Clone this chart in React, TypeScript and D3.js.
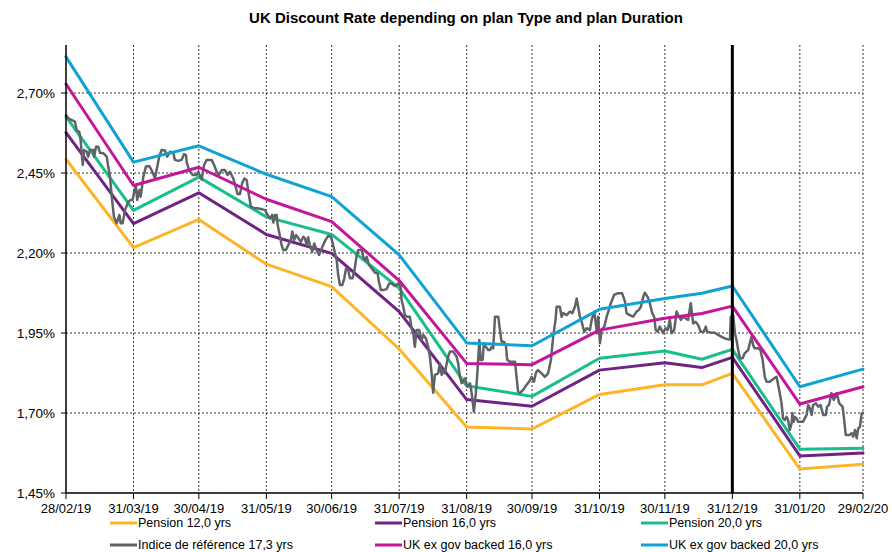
import React from "react";
import * as d3 from "d3";

// month-end knots of the curve series (plus one mid-December point)
const knotDates = [
  "2019-02-28", "2019-03-31", "2019-04-30", "2019-05-31", "2019-06-30",
  "2019-07-31", "2019-08-31", "2019-09-30", "2019-10-31", "2019-11-30",
  "2019-12-17", "2019-12-31", "2020-01-31", "2020-02-29",
];

const pension12 = [2.493, 2.217, 2.305, 2.165, 2.095, 1.900, 1.656, 1.650, 1.758, 1.788, 1.788, 1.824, 1.525, 1.540];
const pension16 = [2.576, 2.292, 2.388, 2.258, 2.199, 2.017, 1.742, 1.721, 1.834, 1.857, 1.842, 1.874, 1.566, 1.575];
const pension20 = [2.626, 2.333, 2.437, 2.313, 2.258, 2.090, 1.785, 1.752, 1.871, 1.894, 1.868, 1.899, 1.587, 1.590];
const ukEx16 = [2.728, 2.411, 2.468, 2.368, 2.298, 2.114, 1.855, 1.851, 1.959, 1.996, 2.011, 2.034, 1.728, 1.782];
const ukEx20 = [2.813, 2.484, 2.535, 2.446, 2.376, 2.194, 1.919, 1.910, 2.024, 2.058, 2.074, 2.097, 1.782, 1.837];

// reference index 17.3 yrs: days after 28/02/19 and rate (%)
const refDays = [
  0, 1.1, 3.4, 4.1, 4.9, 6.1, 6.7, 7.7, 8.3, 9.5, 10.2, 11, 12.5, 12.9, 13.8, 14.8, 15.6, 17.1, 18.7, 19.4,
  20.2, 21, 22, 23.3, 24.5, 25.1, 26, 27.1, 28.6, 29.7, 30.6, 31.2, 32.1, 32.7, 33.7, 34.3, 35.5, 36.7, 38.2, 39.3,
  40.9, 41.6, 42.8, 43.9, 45.5, 46.5, 47.8, 49.3, 50, 51.6, 53.1, 54.2, 55.1, 55.4, 56.6, 58.2, 60, 60.7, 62.3, 63.4,
  64.6, 66.9, 68, 69.2, 70.2, 71.5, 73, 74.2, 75.3, 76.8, 77.9, 78.8, 79.9, 80.9, 81.9, 83, 83.7, 84.9, 86.5, 88,
  89.9, 91.4, 92.6, 93.7, 94.7, 95.2, 96, 96.7, 97.2, 98.3, 99, 99.8, 100.9, 102.1, 103.3, 103.9, 104.8, 105.7, 106.7, 107.9,
  109, 109.7, 110.5, 111.2, 112, 113.1, 114, 115.1, 116.2, 117.1, 118.1, 119.2, 120.4, 121.7, 122.3, 123.2, 124.3, 125, 125.8, 126.9,
  127.8, 128.6, 129.6, 130.4, 131.5, 132.4, 133.5, 134.2, 135.8, 136.5, 137.3, 138.1, 139.1, 140.4, 141.9, 143.1, 143.7, 144.6, 145.7, 147.2,
  148.4, 149.5, 151.1, 152.6, 153.7, 154.1, 154.9, 155.6, 156.7, 157.9, 158.7, 159.5, 160.2, 161, 162.2, 163.3, 164.1, 165.3, 166.3, 167.1,
  167.9, 168.6, 169.4, 170.9, 171.7, 172.5, 173.2, 174, 174.8, 175.5, 176.3, 177.8, 179.4, 180.1, 180.9, 181.7, 182.4, 183.2, 184.3, 185.5,
  186.3, 187.3, 188.2, 188.8, 189.8, 190.4, 191.3, 191.9, 192.8, 193.9, 194.7, 195.5, 196.2, 197, 198.5, 199.3, 200, 201.1, 202, 202.6,
  203.9, 206.2, 206.9, 207.6, 208.4, 209.9, 211.5, 212.7, 213.8, 214.9, 215.8, 216.8, 218.4, 219.9, 221.4, 222.7, 223.7, 224.8, 225.3, 226.8,
  227.6, 228.3, 229.9, 231.4, 232.5, 233.7, 234.5, 235.2, 236, 236.8, 238, 239.1, 240.6, 241.4, 242.6, 243.2, 243.8, 244.4, 245.2, 246,
  247.2, 248.3, 249.3, 250.2, 251.7, 253.3, 255.4, 256.7, 257.4, 258.9, 260.5, 262, 263.1, 264, 265.1, 265.8, 267.1, 268.1, 269.2, 270.1,
  270.8, 271.7, 272.7, 273.5, 274.2, 275.3, 276.3, 277.3, 278.1, 279.3, 280.4, 281.1, 282.4, 283.4, 284.5, 285.7, 286.9, 288, 289.1, 290.3,
  291.5, 292.9, 293.8, 294.4, 296.5, 298, 299.5, 301.1, 302.6, 304.1, 304.9, 305.3, 306.4, 307.2, 307.9, 308.7, 309.5, 310.7, 311.7, 313.3,
  314, 314.8, 315.5, 316.3, 317.9, 318.9, 319.9, 320.9, 321.7, 323.2, 325.1, 326.3, 327.5, 328.6, 329.3, 330.1, 330.9, 331.6, 332.4, 333.2,
  333.6, 334.2, 334.7, 335.5, 336.2, 338.5, 340.1, 340.8, 341.6, 342.4, 343.1, 344.4, 345.4, 346.5, 347.7, 348.9, 349.5, 350.4, 351.5, 352.6,
  353.9, 355.1, 356.6, 357.2, 358.1, 359.7, 360.8, 361.5, 362.3, 363.1, 363.8, 364.6, 365.4, 366,
];
const refRates = [
  2.631, 2.621, 2.613, 2.61, 2.584, 2.579, 2.553, 2.475, 2.522, 2.517, 2.501, 2.522, 2.522, 2.501, 2.532, 2.532, 2.513, 2.512, 2.501, 2.47,
  2.438, 2.376, 2.313, 2.293, 2.319, 2.293, 2.293, 2.334, 2.36, 2.366, 2.366, 2.387, 2.413, 2.366, 2.397, 2.376, 2.438, 2.47, 2.472, 2.459,
  2.433, 2.459, 2.501, 2.522, 2.52, 2.501, 2.517, 2.512, 2.491, 2.488, 2.491, 2.509, 2.506, 2.485, 2.457, 2.444, 2.444, 2.454, 2.43, 2.475,
  2.491, 2.491, 2.475, 2.454, 2.444, 2.459, 2.459, 2.444, 2.454, 2.433, 2.407, 2.384, 2.384, 2.418, 2.433, 2.428, 2.392, 2.345, 2.34, 2.34,
  2.337, 2.334, 2.319, 2.308, 2.319, 2.295, 2.319, 2.319, 2.288, 2.251, 2.225, 2.209, 2.209, 2.225, 2.241, 2.267, 2.241, 2.256, 2.246, 2.235,
  2.251, 2.246, 2.225, 2.249, 2.225, 2.204, 2.23, 2.209, 2.194, 2.209, 2.225, 2.241, 2.253, 2.251, 2.235, 2.209, 2.178, 2.131, 2.1, 2.1,
  2.121, 2.152, 2.147, 2.121, 2.121, 2.142, 2.194, 2.209, 2.209, 2.188, 2.178, 2.188, 2.163, 2.152, 2.138, 2.137, 2.11, 2.084, 2.084, 2.087,
  2.105, 2.105, 2.097, 2.105, 2.095, 2.053, 2.032, 2.006, 2.001, 2.001, 1.965, 1.949, 1.907, 1.959, 1.959, 1.928, 1.944, 1.933, 1.907, 1.876,
  1.824, 1.763, 1.819, 1.824, 1.855, 1.819, 1.834, 1.824, 1.855, 1.876, 1.892, 1.892, 1.876, 1.855, 1.813, 1.793, 1.798, 1.808, 1.782, 1.793,
  1.762, 1.704, 1.762, 1.813, 1.928, 1.866, 1.866, 1.918, 1.907, 1.897, 1.897, 1.907, 1.902, 2.001, 2.001, 1.959, 1.923, 1.923, 1.913, 1.866,
  1.86, 1.86, 1.813, 1.767, 1.762, 1.772, 1.788, 1.798, 1.813, 1.798, 1.826, 1.834, 1.824, 1.813, 1.824, 1.866, 1.938, 1.991, 2.032, 2.032,
  2.001, 2.012, 2.006, 2.017, 2.012, 2.032, 2.058, 2.032, 2.001, 1.985, 1.954, 1.965, 1.959, 1.991, 2.017, 1.985, 1.949, 2.001, 1.918, 1.959,
  1.97, 2.001, 2.022, 2.043, 2.069, 2.074, 2.074, 2.048, 2.012, 2.006, 2.001, 2.017, 2.022, 2.032, 2.063, 2.076, 2.063, 2.043, 2.012, 2.001,
  1.959, 1.954, 1.97, 1.959, 1.949, 1.965, 1.959, 1.991, 1.949, 1.959, 2.017, 2.006, 1.991, 2.001, 1.996, 1.991, 2.043, 1.98, 1.985, 1.975,
  1.954, 1.954, 1.97, 1.954, 1.951, 1.951, 1.944, 1.938, 1.933, 1.93, 1.93, 2.001, 2.006, 1.949, 1.928, 1.897, 1.871, 1.871, 1.887, 1.897,
  1.918, 1.938, 1.913, 1.902, 1.902, 1.897, 1.866, 1.813, 1.798, 1.798, 1.808, 1.813, 1.772, 1.73, 1.683, 1.678, 1.688, 1.678, 1.647, 1.668,
  1.699, 1.673, 1.688, 1.683, 1.673, 1.673, 1.694, 1.725, 1.715, 1.694, 1.725, 1.73, 1.72, 1.725, 1.694, 1.694, 1.72, 1.725, 1.762, 1.741,
  1.762, 1.73, 1.72, 1.688, 1.631, 1.631, 1.637, 1.626, 1.647, 1.621, 1.652, 1.657, 1.699, 1.701,
];

const tickDates = knotDates.filter((d) => d !== "2019-12-17");
const yTicks = [1.45, 1.7, 1.95, 2.2, 2.45, 2.7];
const markerDate = "2019-12-31";

const seriesNames = [
  "Pension 12,0 yrs", "Pension 16,0 yrs", "Pension 20,0 yrs",
  "Indice de référence 17,3 yrs", "UK ex gov backed 16,0 yrs", "UK ex gov backed 20,0 yrs",
];
const seriesColors = ["#FDB528", "#6E2385", "#18BF8D", "#5F6368", "#C3169C", "#0FA2D3"];

const title = "UK Discount Rate depending on plan Type and plan Duration";

const W = 892, H = 552;
const margin = {top: 45, right: 29, bottom: 59, left: 66};
const font = "'Liberation Sans', Arial, sans-serif";

const parse = d3.timeParse("%Y-%m-%d");
const fmtDate = d3.timeFormat("%d/%m/%y");
const fmtPct = (v: number) => d3.format(".2f")(v).replace(".", ",") + "%";

export default function App() {
  const start = parse(knotDates[0]) as Date;
  const end = parse(knotDates[knotDates.length - 1]) as Date;

  const x = d3.scaleTime().domain([start, end]).range([margin.left, W - margin.right]);
  const y = d3.scaleLinear().domain([1.45, 2.85]).range([H - margin.bottom, margin.top]);

  const knots = knotDates.map((d) => parse(d) as Date);
  const line = d3.line<[Date, number]>().x((d) => x(d[0])).y((d) => y(d[1]));

  const curves = [pension12, pension16, pension20, ukEx16, ukEx20].map((vals) =>
    line(vals.map((v, i) => [knots[i], v]))
  );
  const refPath = line(refDays.map((d, i) => [new Date(start.getTime() + d * 86400000), refRates[i]]));

  // Excel draws in series order: 3 pensions, index, 2 ex-gov
  const paths = [
    {d: curves[0], c: seriesColors[0], w: 3},
    {d: curves[1], c: seriesColors[1], w: 3},
    {d: curves[2], c: seriesColors[2], w: 3},
    {d: refPath, c: seriesColors[3], w: 2.5},
    {d: curves[3], c: seriesColors[4], w: 3},
    {d: curves[4], c: seriesColors[5], w: 3},
  ];

  const x0 = margin.left, x1 = W - margin.right;
  const y0 = H - margin.bottom, y1 = margin.top;

  const legendCols = [110, 375, 641];
  const legendRows = [523, 545];

  return (
    <svg width={W} height={H} style={{position: "absolute", left: 0, top: 0, background: "#fff"}}
         fontFamily={font}>
      <rect width={W} height={H} fill="#fff"/>
      <text x={466} y={23} textAnchor="middle" fontSize={15} fontWeight="bold">{title}</text>

      {/* grid */}
      {yTicks.slice(1).map((t) => (
        <line key={"gy" + t} x1={x0} x2={x1} y1={y(t)} y2={y(t)}
              stroke="#333" strokeWidth={1} strokeDasharray="2 2"/>
      ))}
      {tickDates.slice(1).map((t) => (
        <line key={"gx" + t} x1={x(parse(t) as Date)} x2={x(parse(t) as Date)} y1={y1} y2={y0}
              stroke="#333" strokeWidth={1} strokeDasharray="2 2"/>
      ))}

      {/* series */}
      {paths.map((p, i) => (
        <path key={i} d={p.d || ""} fill="none" stroke={p.c} strokeWidth={p.w}
              strokeLinejoin="round" strokeLinecap="round"/>
      ))}

      {/* 31/12/19 marker */}
      <line x1={x(parse(markerDate) as Date)} x2={x(parse(markerDate) as Date)} y1={y1} y2={y0}
            stroke="#000" strokeWidth={3}/>

      {/* axes */}
      <line x1={x0} x2={x0} y1={y1} y2={y0} stroke="#000" strokeWidth={1.5}/>
      <line x1={x0} x2={x1} y1={y0} y2={y0} stroke="#000" strokeWidth={1.5}/>
      {yTicks.map((t) => (
        <g key={"yt" + t}>
          <line x1={x0 - 5} x2={x0} y1={y(t)} y2={y(t)} stroke="#000"/>
          <text x={x0 - 11} y={y(t)} dy="0.35em" textAnchor="end" fontSize={13.5}>{fmtPct(t)}</text>
        </g>
      ))}
      {tickDates.map((t) => {
        const xp = x(parse(t) as Date);
        return (
          <g key={"xt" + t}>
            <line x1={xp} x2={xp} y1={y0} y2={y0 + 6} stroke="#000"/>
            <text x={xp} y={y0 + 20} textAnchor="middle" fontSize={13}>{fmtDate(parse(t) as Date)}</text>
          </g>
        );
      })}

      {/* legend */}
      {seriesNames.map((name, i) => {
        const lx = legendCols[i % 3];
        const ly = legendRows[Math.floor(i / 3)];
        return (
          <g key={"lg" + i}>
            <line x1={lx} x2={lx + 27} y1={ly} y2={ly} stroke={seriesColors[i]} strokeWidth={3}/>
            <text x={lx + 28} y={ly} dy="0.33em" fontSize={12.5}>{name}</text>
          </g>
        );
      })}
    </svg>
  );
}
